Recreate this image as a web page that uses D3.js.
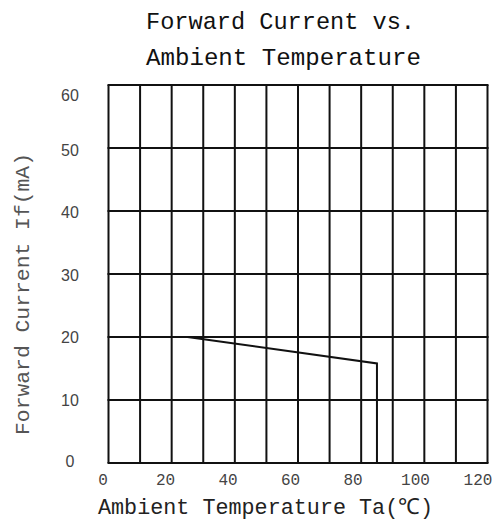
<!DOCTYPE html>
<html><head><meta charset="utf-8">
<script src="https://cdn.jsdelivr.net/npm/d3@7"></script>
<style>body{margin:0;background:#fff}svg{display:block}</style>
</head><body><div id="chart"></div>
<script>
const titleLines = ["Forward Current vs.", "Ambient Temperature"];
const xTicks = [0, 20, 40, 60, 80, 100, 120];
const yTicks = [0, 10, 20, 30, 40, 50, 60];
const xGrid = [0,10,20,30,40,50,60,70,80,90,100,110,120];
const yGrid = [0,10,20,30,40,50,60];
const curveTemp = [25, 85, 85];
const curveCurrent = [20, 15.8, 0];
const xTitle = "Ambient Temperature Ta(℃)";
const yTitle = "Forward Current If(mA)";

const W = 496, H = 523;
const svg = d3.select("#chart").append("svg").attr("width", W).attr("height", H);
const x = d3.scaleLinear().domain([0,120]).range([108.5, 487.5]);
const y = d3.scaleLinear().domain([0,60]).range([463, 85]);
const yLab = d3.scaleLinear().domain([0,10,50,60]).range([461,400,150,95]);
const xLab = d3.scaleLinear().domain([0,120]).range([103,478]);

// title
svg.selectAll("text.title").data(titleLines).join("text")
  .attr("class","title")
  .attr("x", 146).attr("y", (d,i)=> 29 + i*36)
  .attr("textLength", (d,i)=> i===0 ? 269 : 275)
  .attr("lengthAdjust","spacingAndGlyphs")
  .style("font-family","'Liberation Mono', monospace").style("font-size","24px")
  .attr("fill","#111").text(d=>d);

// grid
const g = svg.append("g");
g.selectAll("line.v").data(xGrid).join("line")
  .attr("x1", d=>x(d)).attr("x2", d=>x(d)).attr("y1", y(0)).attr("y2", y(60))
  .attr("stroke","#111").attr("stroke-width",2);
g.selectAll("line.h").data(yGrid).join("line")
  .attr("y1", d=>y(d)).attr("y2", d=>y(d)).attr("x1", x(0)-1).attr("x2", x(120)+1)
  .attr("stroke","#111").attr("stroke-width",2);

// curve
const line = d3.line().x(d=>x(d[0])).y(d=>y(d[1]));
svg.append("path").datum(curveTemp.map((t,i)=>[t, curveCurrent[i]]))
  .attr("d", line).attr("fill","none").attr("stroke","#111").attr("stroke-width",2);

// y tick labels
svg.selectAll("text.yt").data(yTicks).join("text")
  .attr("class","yt").attr("x",70).attr("y", d=>yLab(d)).attr("dy","0.36em")
  .attr("text-anchor","middle")
  .style("font-family","'Liberation Sans', sans-serif").style("font-size","16px")
  .attr("fill","#444").text(d=>d);

// x tick labels
svg.selectAll("text.xt").data(xTicks).join("text")
  .attr("class","xt").attr("x", d=>xLab(d)).attr("y", 485)
  .attr("text-anchor","middle")
  .style("font-family","'Liberation Mono', monospace").style("font-size","16px")
  .attr("fill","#444").text(d=>d);

// x title
svg.append("text").attr("x",98).attr("y",514)
  .attr("textLength",335).attr("lengthAdjust","spacingAndGlyphs")
  .style("font-family","'Liberation Mono', monospace").style("font-size","22px")
  .attr("fill","#222").text(xTitle);

// y title
svg.append("text").attr("transform","translate(29,294) rotate(-90)")
  .attr("text-anchor","middle")
  .attr("textLength",282).attr("lengthAdjust","spacingAndGlyphs")
  .style("font-family","'Liberation Mono', monospace").style("font-size","21px")
  .attr("fill","#555").text(yTitle);
</script></body></html>
